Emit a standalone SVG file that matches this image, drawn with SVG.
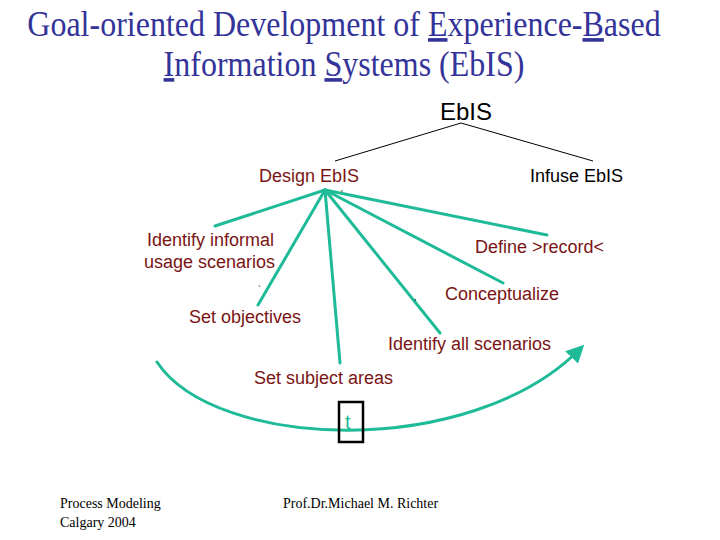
<svg xmlns="http://www.w3.org/2000/svg" width="720" height="540" viewBox="0 0 720 540">
<style>
.title{font-family:"Liberation Serif",serif;font-size:32px;fill:#333399;text-anchor:middle}
.lbl{font-family:"Liberation Sans",Arial,sans-serif;font-size:18px;fill:#7a1414}
.blk{font-family:"Liberation Sans",Arial,sans-serif;font-size:18px;fill:#000}
.foot{font-family:"Liberation Serif",serif;font-size:14px;fill:#000}
.tl{stroke:#1fbb98;stroke-width:3;fill:none;stroke-linecap:round}
.thin{stroke:#000;stroke-width:1;fill:none}
.stray{font-family:"Liberation Sans",sans-serif;font-size:9px;fill:#000}
</style>
<defs>
<marker id="ah" markerWidth="6" markerHeight="6" refX="4" refY="3" orient="auto" markerUnits="strokeWidth">
<path d="M0,0 L6,3 L0,6 Z" fill="#1fbb98"/>
</marker>
</defs>
<rect width="720" height="540" fill="#fff"/>
<g id="title">
<text class="title" transform="translate(344,36) scale(1,1.12)">Goal-oriented Development of <tspan text-decoration="underline">E</tspan>xperience-<tspan text-decoration="underline">B</tspan>ased</text>
<text class="title" transform="translate(344,76) scale(1,1.12)"><tspan text-decoration="underline">I</tspan>nformation <tspan text-decoration="underline">S</tspan>ystems (EbIS)</text>
</g>
<g id="connectors">
<line class="thin" x1="461" y1="123" x2="335" y2="161"/>
<line class="thin" x1="461" y1="123" x2="593" y2="161"/>
<line class="tl" x1="325" y1="190" x2="215" y2="226"/>
<line class="tl" x1="325" y1="190" x2="258" y2="305"/>
<line class="tl" x1="325" y1="190" x2="340" y2="363"/>
<line class="tl" x1="325" y1="190" x2="440" y2="333"/>
<line class="tl" x1="325" y1="190" x2="503" y2="283"/>
<line class="tl" x1="325" y1="190" x2="547" y2="235"/>
<path class="tl" d="M157,362 C215,450 470,460 580,349" marker-end="url(#ah)"/>
</g>
<g id="n-ebis"><text class="blk" x="440" y="120" style="font-size:24px">EbIS</text></g>
<g id="n-design"><text class="lbl" x="259" y="182">Design EbIS</text></g>
<g id="n-infuse"><text class="blk" x="530" y="182">Infuse EbIS</text></g>
<g id="n-identify-informal"><text class="lbl" x="147" y="246">Identify informal</text><text class="lbl" x="144" y="268">usage scenarios</text></g>
<g id="n-define"><text class="lbl" x="475" y="253">Define &gt;record&lt;</text></g>
<g id="n-conceptualize"><text class="lbl" x="445" y="300">Conceptualize</text></g>
<g id="n-objectives"><text class="lbl" x="189" y="323">Set objectives</text></g>
<g id="n-identify-all"><text class="lbl" x="388" y="350">Identify all scenarios</text></g>
<g id="n-subject"><text class="lbl" x="254" y="384">Set subject areas</text></g>
<g id="n-t">
<rect x="339" y="402" width="24" height="40" fill="none" stroke="#000" stroke-width="2.5"/>
<text x="345" y="429" style="font-family:'Liberation Sans',sans-serif;font-size:20px;fill:#1fbb98">t</text>
</g>
<g id="stray">
<text class="stray" x="341" y="196">'</text>
<text class="stray" x="258" y="292">`</text>
<text class="stray" x="414" y="300">,</text>
</g>
<g id="footer">
<text class="foot" x="60" y="508">Process Modeling</text>
<text class="foot" x="60" y="527">Calgary 2004</text>
<text class="foot" x="283" y="508">Prof.Dr.Michael M. Richter</text>
</g>
</svg>
